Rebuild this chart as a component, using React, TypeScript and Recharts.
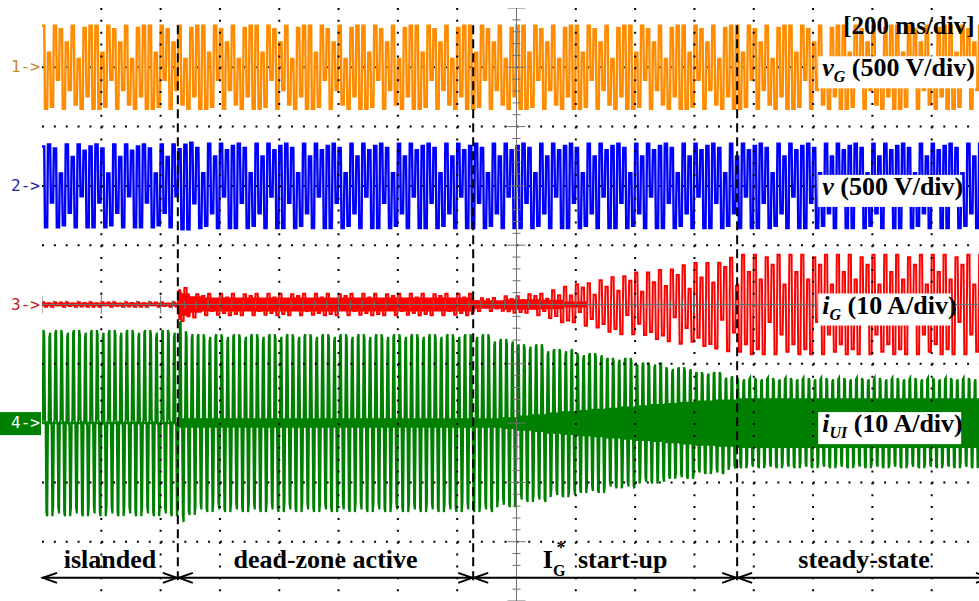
import React from "react";
import {
	ComposedChart,
	Line,
	Area,
	Scatter,
	XAxis,
	YAxis,
	ReferenceLine,
	ReferenceDot,
} from "recharts";

// time axis: 16 divisions of 200 ms
const DIVS = 16;
const ROWS_PER_DIV = 80;
const HOLD_ROWS = 4;

// vertical position of each channel's zero (divisions)
const channelOffsets = [4, 2, 0, -2];
const channelMarkers = ["1->", "2->", "3->", "4->"];
const markerColors = ["#c8862e", "#1e1ea0", "#c41e1e", "#ffffff"];
const traceColors = ["#ff8c00", "#0000ff", "#ff0000", "#008000"];

const labelSymbols = ["v", "v", "i", "i"];
const labelSubs = ["G", "", "G", "UI"];
const labelScales = ["(500 V/div)", "(500 V/div)", "(10 A/div)", "(10 A/div)"];

// instants where the operating mode changes (divisions)
const eventTimes = [2.29, 7.27, 11.72];
const phaseNames = ["islanded", "dead-zone active", "start-up", "steady-state"];

// envelopes as [start (div), half amplitude (div)]
const vGEnvelope = [[0, 0.7]];
const vEnvelope = [
	[0, 0.7],
	[2.29, 0.73],
	[2.6, 0.71],
];
const iGEnvelope = [
	[0, 0.04],
	[2.29, 0.34],
	[2.34, 0.28],
	[2.45, 0.22],
	[2.6, 0.18],
	[7.27, 0.11],
	[7.8, 0.14],
	[8.2, 0.18],
	[8.5, 0.24],
	[8.75, 0.3],
	[9, 0.36],
	[9.25, 0.41],
	[9.5, 0.46],
	[9.75, 0.5],
	[10, 0.54],
	[10.25, 0.58],
	[10.5, 0.62],
	[10.75, 0.66],
	[11, 0.7],
	[11.25, 0.74],
	[11.5, 0.79],
	[11.72, 0.84],
];
// dense noise band around the grid current
const iGCoreEnvelope = [
	[0, 0.03],
	[2.29, 0.26],
	[2.34, 0.19],
	[2.5, 0.14],
	[2.7, 0.12],
	[7.27, 0.07],
	[7.8, 0.09],
	[8.4, 0.08],
	[8.8, 0.05],
	[9.2, 0],
];
const iUIEnvelope = [
	[0, 1.57],
	[2.29, 1.72],
	[2.4, 1.55],
	[2.6, 1.5],
	[7.27, 1.5],
	[7.6, 1.42],
	[8, 1.33],
	[8.5, 1.25],
	[9, 1.18],
	[9.5, 1.1],
	[10, 1.02],
	[10.5, 0.94],
	[11, 0.86],
	[11.5, 0.79],
	[11.72, 0.76],
];
const iUICoreEnvelope = [
	[0, 0.02],
	[2.29, 0.08],
	[7.27, 0.08],
	[7.75, 0.1],
	[8, 0.13],
	[8.25, 0.15],
	[8.5, 0.18],
	[8.75, 0.2],
	[9, 0.22],
	[9.25, 0.24],
	[9.5, 0.26],
	[9.75, 0.28],
	[10, 0.3],
	[10.25, 0.32],
	[10.5, 0.34],
	[10.75, 0.36],
	[11, 0.38],
	[11.35, 0.4],
	[11.72, 0.42],
];

// sampled levels (normalized), each held for HOLD_ROWS rows
const vGLevels = [1, -1, 0.35, -0.95, 1, -0.3, 0.92, -1, 0.6, -0.55, 1, -0.9, 0.2, -1, 0.95, -0.7, 1, -1];
const vLevels = [0.95, -1, 1, -0.4, 0.9, -1, 0.3, -0.95, 1, -0.65, 0.7, -1, 1, -0.25, 0.85, -1];
const iGLevels = [1, -0.9, 0.5, -1, 0.95, -0.35, 0.8, -1, 1, -0.6, 0.4, -0.95, 1, -0.8, 0.65, -1];
// load current shape, one value per row (8 rows per mains cycle)
const iUIShape = [
	0, 0.03, 1, 0.95, 0.04, 0, -0.96, -1,
	0.02, 0, 0.92, 0.97, 0, -0.03, -1, -0.9,
	0, 0.04, 0.97, 1, 0.02, 0, -0.9, -0.97,
];

const gridX = [1, 2, 3, 4, 5, 6, 7, 9, 10, 11, 12, 13, 14, 15];
// rows hidden behind the traces are drawn underneath them
const gridYUnder = [-2, 2, 4];
const gridYOver = [-4, -3, -1, 1, 3];
const minorX = Array.from({ length: DIVS * 5 + 1 }, (_, i) => i / 5);
const minorY = Array.from({ length: 51 }, (_, i) => -5 + i / 5);

const envAt = (env: number[][], t: number) => {
	let a = env[0][1];
	for (const [start, amp] of env) if (t >= start) a = amp;
	return a;
};

const rows = Array.from({ length: DIVS * ROWS_PER_DIV + 1 }, (_, i) => {
	const t = i / ROWS_PER_DIV;
	const h = Math.floor(i / HOLD_ROWS);
	const core = envAt(iUICoreEnvelope, t);
	const gCore = envAt(iGCoreEnvelope, t);
	return {
		t,
		vG: channelOffsets[0] + envAt(vGEnvelope, t) * vGLevels[h % vGLevels.length],
		v: channelOffsets[1] + envAt(vEnvelope, t) * vLevels[h % vLevels.length],
		iG: channelOffsets[2] + envAt(iGEnvelope, t) * iGLevels[h % iGLevels.length],
		iGCore: [channelOffsets[2] - gCore, channelOffsets[2] + gCore],
		iUI: channelOffsets[3] + envAt(iUIEnvelope, t) * iUIShape[i % iUIShape.length],
		iUICore: [channelOffsets[3] - core, channelOffsets[3] + core],
	};
});

const centerVTicks = minorY.map((y) => ({ t: DIVS / 2, y }));
const centerHTicks = minorX.map((t) => ({ t, y: 0 }));

const SERIF = "'Liberation Serif', 'Times New Roman', serif";
const labelBoxWidths = [158, 144, 133, 143];

const ChannelTick = ({ x, y, payload }: any) => {
	const i = channelOffsets.indexOf(payload.value);
	if (i < 0) return <g />;
	return (
		<g>
			{i === 3 && <rect x={x - 40} y={y - 11} width={41} height={23} fill="#008000" />}
			<text
				x={x}
				y={y + 5}
				textAnchor="end"
				fontFamily="'DejaVu Sans Mono', monospace"
				fontSize={16}
				fill={markerColors[i]}
			>
				{channelMarkers[i]}
			</text>
		</g>
	);
};

const HTick = ({ cx, cy, payload }: any) => {
	const len = Number.isInteger(payload.y) ? 9 : 4;
	return <line x1={cx - len} x2={cx + len} y1={cy} y2={cy} stroke="#707070" strokeWidth={1} />;
};

const VTick = ({ cx, cy, payload }: any) => {
	const len = Number.isInteger(payload.t) ? 9 : 4;
	return <line x1={cx} x2={cx} y1={cy - len} y2={cy + len} stroke="#707070" strokeWidth={1} />;
};

const arrowStops = [0, ...eventTimes, DIVS];

const Chevrons = ({ cx, cy, idx }: any) => (
	<g fill="none" stroke="#000" strokeWidth={2}>
		{idx > 0 && <polyline points={`${cx - 15},${cy - 5} ${cx - 1},${cy} ${cx - 15},${cy + 5}`} />}
		{idx < arrowStops.length - 1 && (
			<polyline points={`${cx + 15},${cy - 5} ${cx + 1},${cy} ${cx + 15},${cy + 5}`} />
		)}
	</g>
);

const PhaseLabel = ({ cx, cy, idx }: any) => (
	<text x={cx} y={cy} textAnchor="middle" fontFamily={SERIF} fontWeight="bold" fontSize={26} fill="#000">
		{idx === 2 ? (
			<>
				<tspan>I</tspan>
				<tspan fontSize={16} dy={8}>G</tspan>
				<tspan fontSize={18} dx={-9} dy={-22}>*</tspan>
				<tspan dx={6} dy={14}>{" " + phaseNames[idx]}</tspan>
			</>
		) : (
			phaseNames[idx]
		)}
	</text>
);

const TraceLabel = ({ cx, cy, idx }: any) => (
	<g>
		<rect x={cx - 2} y={cy - 11} width={labelBoxWidths[idx]} height={32} fill="#fff" />
		<text x={cx + 2} y={cy + 9} fontFamily={SERIF} fontWeight="bold" fontSize={26} fill="#000">
			<tspan fontStyle="italic">{labelSymbols[idx]}</tspan>
			{labelSubs[idx] && (
				<tspan fontStyle="italic" fontSize={16} dy={6}>
					{labelSubs[idx]}
				</tspan>
			)}
			<tspan dy={labelSubs[idx] ? -6 : 0}>{" " + labelScales[idx]}</tspan>
		</text>
	</g>
);

const TimeBase = ({ cx, cy }: any) => (
	<text x={cx} y={cy} fontFamily={SERIF} fontWeight="bold" fontSize={25} fill="#000">
		[200 ms/div]
	</text>
);

const seriesKeys = ["vG", "v", "iG", "iUI"];
const seriesWidths = [2.4, 2.4, 2, 2.2];

export default function App() {
	return (
		<div
			style={{
				position: "absolute",
				left: 0,
				top: 0,
				width: 979,
				height: 601,
				overflow: "hidden",
				background: "#fff",
			}}
		>
			<ComposedChart width={1000} height={610} data={rows} margin={{ top: 8, right: 9, bottom: 9, left: 0 }}>
				<XAxis
					xAxisId="t"
					dataKey="t"
					type="number"
					domain={[0, DIVS]}
					orientation="top"
					mirror
					height={0}
					ticks={minorX}
					tick={false}
					tickSize={7}
					stroke="#808080"
					allowDataOverflow
				/>
				<XAxis
					xAxisId="b"
					dataKey="t"
					type="number"
					domain={[0, DIVS]}
					orientation="bottom"
					mirror
					height={0}
					ticks={minorX}
					tick={false}
					tickSize={7}
					stroke="#808080"
					allowDataOverflow
				/>
				<YAxis
					yAxisId="ch"
					type="number"
					domain={[-5, 5]}
					ticks={channelOffsets}
					width={42}
					axisLine={false}
					tickLine={false}
					tickSize={0}
					tickMargin={2}
					tick={<ChannelTick />}
					allowDataOverflow
				/>
				<YAxis
					yAxisId="edge"
					type="number"
					domain={[-5, 5]}
					mirror
					width={0}
					ticks={minorY}
					tick={false}
					tickSize={5}
					stroke="#808080"
					axisLine={{ stroke: "#808080", strokeWidth: 2 }}
					allowDataOverflow
				/>

				{gridYUnder.map((y) => (
					<ReferenceLine
						key={"gu" + y}
						xAxisId="t"
						yAxisId="ch"
						y={y}
						stroke="#000"
						strokeWidth={2}
						strokeDasharray="2 9.86"
						zIndex={0}
					/>
				))}
				<Area
					xAxisId="t"
					yAxisId="ch"
					dataKey="iGCore"
					stroke="none"
					fill="#ff0000"
					fillOpacity={1}
					isAnimationActive={false}
				/>
				<Area
					xAxisId="t"
					yAxisId="ch"
					dataKey="iUICore"
					stroke="none"
					fill="#008000"
					fillOpacity={1}
					isAnimationActive={false}
				/>
				{seriesKeys.map((k, i) => (
					<Line
						key={k}
						xAxisId="t"
						yAxisId="ch"
						dataKey={k}
						type="linear"
						stroke={traceColors[i]}
						strokeWidth={seriesWidths[i]}
						dot={false}
						activeDot={false}
						isAnimationActive={false}
					/>
				))}

				{gridX.map((x) => (
					<ReferenceLine
						key={"gx" + x}
						xAxisId="t"
						yAxisId="ch"
						x={x}
						stroke="#000"
						strokeWidth={2}
						strokeDasharray="2 9.86"
						zIndex={800}
					/>
				))}
				{gridYOver.map((y) => (
					<ReferenceLine
						key={"gy" + y}
						xAxisId="t"
						yAxisId="ch"
						y={y}
						stroke="#000"
						strokeWidth={2}
						strokeDasharray="2 9.86"
						zIndex={800}
					/>
				))}
				<ReferenceLine xAxisId="t" yAxisId="ch" x={DIVS / 2} stroke="#707070" strokeWidth={1} zIndex={800} />
				<ReferenceLine xAxisId="t" yAxisId="ch" y={0} stroke="#707070" strokeWidth={1} zIndex={800} />
				<Scatter
					xAxisId="t"
					yAxisId="ch"
					data={centerVTicks}
					dataKey="y"
					shape={<HTick />}
					isAnimationActive={false}
					zIndex={800}
				/>
				<Scatter
					xAxisId="t"
					yAxisId="ch"
					data={centerHTicks}
					dataKey="y"
					shape={<VTick />}
					isAnimationActive={false}
					zIndex={800}
				/>

				{eventTimes.map((t) => (
					<ReferenceLine
						key={"ev" + t}
						xAxisId="t"
						yAxisId="ch"
						segment={[
							{ x: t, y: 4.71 },
							{ x: t, y: -4.68 },
						]}
						stroke="#000"
						strokeWidth={2}
						strokeDasharray="9 5"
						zIndex={900}
					/>
				))}
				<ReferenceLine
					xAxisId="t"
					yAxisId="ch"
					segment={[
						{ x: 0, y: -4.61 },
						{ x: DIVS, y: -4.61 },
					]}
					stroke="#000"
					strokeWidth={2}
					zIndex={900}
				/>
				{arrowStops.map((t, idx) => (
					<ReferenceDot
						key={"ar" + idx}
						xAxisId="t"
						yAxisId="ch"
						x={t}
						y={-4.61}
						r={0}
						shape={(p: any) => <Chevrons {...p} idx={idx} />}
						zIndex={900}
					/>
				))}
				{phaseNames.map((name, idx) => (
					<ReferenceDot
						key={name}
						xAxisId="t"
						yAxisId="ch"
						x={(arrowStops[idx] + arrowStops[idx + 1]) / 2}
						y={-4.44}
						r={0}
						shape={(p: any) => <PhaseLabel {...p} idx={idx} />}
						zIndex={900}
					/>
				))}
				{channelOffsets.map((off, idx) => (
					<ReferenceDot
						key={"lab" + idx}
						xAxisId="t"
						yAxisId="ch"
						x={13.12}
						y={off}
						r={0}
						shape={(p: any) => <TraceLabel {...p} idx={idx} />}
						zIndex={900}
					/>
				))}
				<ReferenceDot
					xAxisId="t"
					yAxisId="ch"
					x={13.51}
					y={4.56}
					r={0}
					shape={(p: any) => <TimeBase {...p} />}
					zIndex={900}
				/>
			</ComposedChart>
		</div>
	);
}
